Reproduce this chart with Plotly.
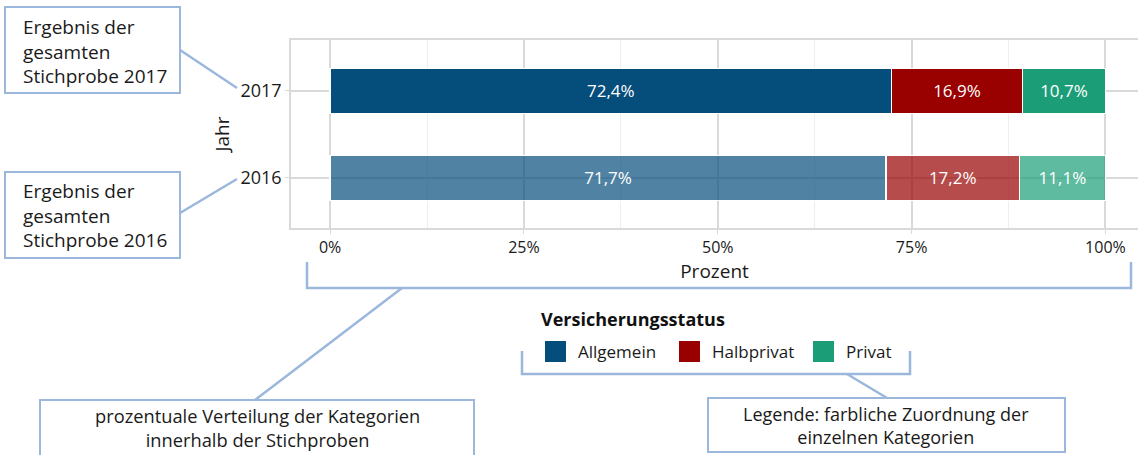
import plotly.graph_objects as go

# ---- data ----
years = ["2017", "2016"]
year_order = ["2016", "2017"]
categories = ["Allgemein", "Halbprivat", "Privat"]
allgemein = [72.4, 71.7]
halbprivat = [16.9, 17.2]
privat = [10.7, 11.1]
x_ticks = [0, 25, 50, 75, 100]
x_tick_labels = ["0%", "25%", "50%", "75%", "100%"]

series = {"Allgemein": allgemein, "Halbprivat": halbprivat, "Privat": privat}
base_rgb = {"Allgemein": (5, 78, 124), "Halbprivat": (153, 0, 0), "Privat": (27, 158, 119)}
alpha = {"2016": 0.7, "2017": 1.0}

W, H = 1138, 455
FONT = "Open Sans"
LINE = "#9bb7dc"
TXT = "#1a1a1a"


def px(x):
    return x / W


def py(y):
    return 1 - y / H


def fmt(v):
    return f"{v:.1f}".replace(".", ",") + "%"


fig = go.Figure()
for cat in categories:
    vals = series[cat]
    r, g, b = base_rgb[cat]
    fig.add_trace(go.Bar(
        y=years, x=vals, orientation="h", name=cat, showlegend=False,
        width=0.52,
        marker=dict(color=[f"rgba({r},{g},{b},{alpha[yr]})" for yr in years],
                    line=dict(color="white", width=1.5)),
        text=[fmt(v) for v in vals], textposition="inside",
        insidetextanchor="middle", constraintext="none",
        textfont=dict(color="white", size=17, family=FONT),
        hoverinfo="skip",
    ))
# legend keys
for cat in categories:
    r, g, b = base_rgb[cat]
    col = f"rgb({r},{g},{b})"
    fig.add_trace(go.Scatter(
        x=[None], y=[None], mode="markers", name=cat, showlegend=True,
        marker=dict(symbol="square", size=16, color=col, line=dict(color=col, width=5)),
        hoverinfo="skip",
    ))

fig.update_layout(
    width=W, height=H, barmode="stack",
    margin=dict(l=0, r=0, t=0, b=0),
    paper_bgcolor="white", plot_bgcolor="white",
    font=dict(family=FONT, size=17, color=TXT),
    showlegend=True,
    legend=dict(
        orientation="h", x=px(533), xanchor="left", y=py(352), yanchor="middle",
        font=dict(size=17, color=TXT), traceorder="normal",
        itemsizing="trace", itemwidth=35, entrywidth=84,
        bgcolor="rgba(0,0,0,0)",
    ),
    xaxis=dict(
        domain=[px(291), 1.0], range=[-5.04, 104.2],
        tickvals=x_ticks, ticktext=x_tick_labels,
        showgrid=True, gridcolor="#d9d9d9", gridwidth=1.5,
        minor=dict(dtick=12.5, tick0=0, showgrid=True, gridcolor="#eeeeee", gridwidth=1),
        ticks="outside", ticklen=4, tickcolor="#d9d9d9",
        showline=True, mirror=True, linecolor="#d9d9d9", linewidth=1.5,
        zeroline=False, tickfont=dict(size=16, color=TXT),
        title=dict(text="Prozent", font=dict(size=19, color=TXT), standoff=2),
    ),
    yaxis=dict(
        domain=[py(228), py(40)], range=[-0.575, 1.586],
        type="category", categoryorder="array", categoryarray=year_order,
        showgrid=True, gridcolor="#d9d9d9", gridwidth=1.5,
        ticks="outside", ticklen=4, tickcolor="#d9d9d9",
        showline=True, mirror=False, linecolor="#d9d9d9", linewidth=1.5,
        zeroline=False, tickfont=dict(size=18, color=TXT),
        title=dict(text="Jahr", font=dict(size=19, color=TXT), standoff=6),
    ),
)

shapes = []
annotations = []


def box(x0, y0, x1, y1):
    shapes.append(dict(type="rect", xref="paper", yref="paper",
                       x0=px(x0), x1=px(x1), y0=py(y1), y1=py(y0),
                       line=dict(color=LINE, width=2), fillcolor="white", layer="above"))


def seg(x0, y0, x1, y1):
    shapes.append(dict(type="line", xref="paper", yref="paper",
                       x0=px(x0), x1=px(x1), y0=py(y0), y1=py(y1),
                       line=dict(color=LINE, width=2.5), layer="above"))


def path(pts):
    d = "M " + " L ".join(f"{px(x)},{py(y)}" for x, y in pts)
    shapes.append(dict(type="path", xref="paper", yref="paper", path=d,
                       line=dict(color=LINE, width=2.5), layer="above"))


def note(x, y, text, anchor, size):
    annotations.append(dict(xref="paper", yref="paper", x=px(x), y=py(y), xanchor=anchor,
                            yanchor="middle", text=text, align=anchor if anchor != "center" else "center",
                            showarrow=False, font=dict(size=size, color=TXT, family=FONT)))


# legend title
annotations.append(dict(xref="paper", yref="paper", x=px(539), y=py(319), xanchor="left", yanchor="middle",
                        text="<b>Versicherungsstatus</b>", showarrow=False,
                        font=dict(size=18, color="#111111", family=FONT)))

# boxes on the left
box(5, 7, 180, 93)
box(5, 172, 180, 258)
seg(180, 50, 237, 88)
seg(180, 213, 237, 179)
note(21, 51, "Ergebnis der<br>gesamten<br>Stichprobe 2017", "left", 19)
note(21, 215, "Ergebnis der<br>gesamten<br>Stichprobe 2016", "left", 19)

# bracket under x axis
path([(307, 262), (307, 288), (1131, 288), (1131, 262)])
seg(402, 288, 255, 400)
box(40, 400, 474, 462)
note(257, 427, "prozentuale Verteilung der Kategorien<br>innerhalb der Stichproben", "center", 18.3)

# bracket under legend
path([(522, 351), (522, 374), (910, 374), (910, 351)])
seg(847, 374, 887, 398)
box(708, 398, 1065, 452)
note(886, 425, "Legende: farbliche Zuordnung der<br>einzelnen Kategorien", "center", 18)

fig.update_layout(shapes=shapes, annotations=annotations)
fig.write_html("out.html", config={"displayModeBar": False},
               post_script="document.body.style.margin='0';document.body.style.padding='0';")
